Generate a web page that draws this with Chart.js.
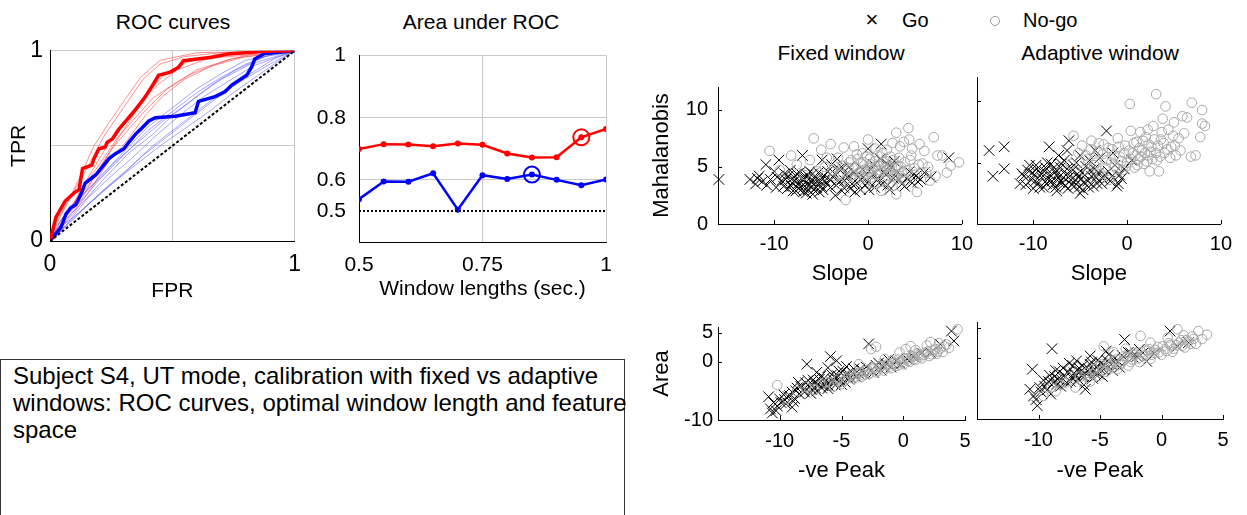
<!DOCTYPE html>
<html>
<head>
<meta charset="utf-8">
<script src="https://cdn.jsdelivr.net/npm/chart.js@4.4.0/dist/chart.umd.min.js"></script>
<style>
  body { margin: 0; background: #fff; font-family: "Liberation Sans", Arial, sans-serif; }
  #page { position: relative; width: 1247px; height: 515px; overflow: hidden; }
  canvas { position: absolute; }
  .t { position: absolute; transform: translate(-50%, -50%); white-space: nowrap; color: #000; }
  .l { position: absolute; transform: translate(0, -50%); white-space: nowrap; color: #000; }
  #note {
    position: absolute; left: 0; top: 359px; width: 625px; height: 180px;
    border: 1px solid #333; box-sizing: border-box;
    font-size: 24px; line-height: 27px; padding: 2px 12px; white-space: pre;
  }
</style>
</head>
<body>
<div id="page">
  <div class="t" style="left:173px;top:22px;font-size:21px">ROC curves</div>
  <div class="t" style="left:481px;top:22px;font-size:21px">Area under ROC</div>
  <div class="t" style="left:872px;top:20px;font-size:22px">×</div>
  <div class="l" style="left:902px;top:20px;font-size:20px">Go</div>
  <div class="t" style="left:995px;top:21px;width:8px;height:8px;border:1px solid #999;border-radius:50%"></div>
  <div class="l" style="left:1023px;top:20px;font-size:20px">No-go</div>
  <div class="t" style="left:841px;top:53px;font-size:21px">Fixed window</div>
  <div class="t" style="left:1100px;top:53px;font-size:21px">Adaptive window</div>
  <div id="note">Subject S4, UT mode, calibration with fixed vs adaptive
windows: ROC curves, optimal window length and feature
space</div>
</div>
<script>
// ROC curves (FPR, TPR)
const rocRed = [[0,0],[0.011,0.055],[0.024,0.124],[0.062,0.21],[0.099,0.253],[0.119,0.27],[0.133,0.381],
  [0.171,0.399],[0.18,0.433],[0.2,0.485],[0.225,0.493],[0.234,0.519],[0.255,0.536],[0.282,0.588],
  [0.316,0.639],[0.35,0.691],[0.39,0.759],[0.424,0.828],[0.444,0.871],[0.492,0.888],[0.526,0.914],
  [0.546,0.948],[0.661,0.966],[0.729,0.983],[0.878,0.997],[1,1]];
const rocBlue = [[0,0],[0.018,0.029],[0.045,0.072],[0.065,0.141],[0.085,0.175],[0.106,0.192],[0.126,0.244],
  [0.144,0.304],[0.187,0.347],[0.214,0.39],[0.241,0.433],[0.268,0.459],[0.302,0.485],[0.322,0.519],
  [0.35,0.562],[0.377,0.596],[0.404,0.631],[0.431,0.648],[0.512,0.656],[0.593,0.674],[0.607,0.734],
  [0.675,0.759],[0.715,0.785],[0.743,0.82],[0.804,0.871],[0.824,0.914],[0.837,0.957],[0.878,0.986],[1,1]];
const rocRedThin = [
  [[0,0],[0.03,0.1],[0.08,0.22],[0.15,0.38],[0.22,0.55],[0.3,0.7],[0.38,0.85],[0.45,0.93],[0.55,0.97],[0.7,0.99],[1,1]],
  [[0,0],[0.05,0.1],[0.12,0.25],[0.2,0.4],[0.28,0.55],[0.35,0.65],[0.42,0.75],[0.5,0.82],[0.6,0.9],[0.75,0.96],[1,1]],
  [[0,0],[0.04,0.08],[0.1,0.2],[0.18,0.33],[0.25,0.48],[0.33,0.6],[0.4,0.7],[0.48,0.8],[0.58,0.88],[0.72,0.95],[0.85,0.99],[1,1]],
  [[0,0],[0.02,0.07],[0.09,0.18],[0.14,0.3],[0.21,0.45],[0.27,0.58],[0.36,0.72],[0.44,0.82],[0.52,0.9],[0.65,0.96],[1,1]],
  [[0,0],[0.06,0.12],[0.13,0.22],[0.19,0.36],[0.26,0.5],[0.32,0.62],[0.4,0.78],[0.47,0.88],[0.56,0.94],[0.68,0.98],[1,1]],
  [[0,0],[0.03,0.05],[0.1,0.15],[0.17,0.28],[0.24,0.42],[0.31,0.52],[0.39,0.66],[0.46,0.76],[0.55,0.85],[0.66,0.92],[0.8,0.97],[1,1]],
  [[0,0],[0.02,0.09],[0.07,0.2],[0.12,0.33],[0.18,0.5],[0.24,0.62],[0.31,0.75],[0.37,0.86],[0.45,0.95],[0.6,0.99],[1,1]]
];
const rocBlueThin = [
  [[0,0],[0.05,0.08],[0.12,0.2],[0.2,0.32],[0.3,0.45],[0.4,0.58],[0.5,0.68],[0.6,0.78],[0.7,0.86],[0.8,0.93],[0.9,0.98],[1,1]],
  [[0,0],[0.06,0.07],[0.14,0.17],[0.22,0.27],[0.32,0.38],[0.42,0.5],[0.52,0.6],[0.62,0.7],[0.72,0.8],[0.82,0.88],[0.92,0.96],[1,1]],
  [[0,0],[0.04,0.1],[0.1,0.2],[0.18,0.3],[0.27,0.42],[0.36,0.52],[0.46,0.63],[0.56,0.72],[0.66,0.82],[0.76,0.9],[0.88,0.97],[1,1]],
  [[0,0],[0.08,0.1],[0.16,0.2],[0.25,0.3],[0.35,0.4],[0.45,0.5],[0.55,0.59],[0.65,0.68],[0.75,0.78],[0.85,0.87],[0.95,0.96],[1,1]],
  [[0,0],[0.05,0.12],[0.13,0.24],[0.22,0.36],[0.31,0.48],[0.4,0.6],[0.5,0.7],[0.6,0.8],[0.7,0.88],[0.8,0.95],[1,1]],
  [[0,0],[0.07,0.09],[0.15,0.22],[0.24,0.33],[0.33,0.43],[0.43,0.55],[0.53,0.66],[0.63,0.76],[0.73,0.84],[0.83,0.92],[1,1]],
  [[0,0],[0.03,0.06],[0.11,0.14],[0.2,0.24],[0.29,0.34],[0.38,0.45],[0.48,0.55],[0.58,0.65],[0.68,0.75],[0.78,0.84],[0.9,0.93],[1,1]],
  [[0,0],[0.06,0.11],[0.14,0.21],[0.23,0.34],[0.32,0.46],[0.42,0.56],[0.5,0.66],[0.6,0.76],[0.7,0.85],[0.82,0.93],[1,1]]
];
const chanceLine = [[0,0],[1,1]];
const rocTicks = [0, 0.5, 1];

// Area under ROC vs window length
const winLen = [0.5, 0.55, 0.6, 0.65, 0.7, 0.75, 0.8, 0.85, 0.9, 0.95, 1.0];
const aucRed = [0.699, 0.715, 0.714, 0.708, 0.717, 0.713, 0.685, 0.672, 0.673, 0.737, 0.764];
const aucBlue = [0.538, 0.595, 0.594, 0.621, 0.504, 0.615, 0.603, 0.617, 0.600, 0.583, 0.601];
const bestRed = 9, bestBlue = 7;
const aucChance = 0.5;
const aucXTicks = [0.5, 0.75, 1];
const aucYTicks = [0.5, 0.6, 0.8, 1];

// feature space: Slope vs Mahalanobis
const goFixedTop = [[-15.9,3.9],[-12.6,3.9],[-11.6,4.2],[-11.3,3.7],[-10.9,5.2],[-10.8,3.4],[-10.4,3.9],[-9.8,3.2],
  [-9.5,5.6],[-9.2,3.8],[-8.9,4.4],[-8.6,3.1],[-8.3,4.7],[-8.1,3.6],[-7.9,4.1],[-7.7,2.9],[-7.5,3.5],[-7.3,4.5],
  [-7.0,6.0],[-6.9,3.2],[-6.8,3.9],[-6.6,2.7],[-6.5,4.3],[-6.3,3.4],[-6.1,3.8],[-5.9,4.4],[-5.8,3.0],[-5.6,3.6],
  [-5.4,4.0],[-5.2,2.8],[-5.0,3.3],[-4.9,5.6],[-4.7,4.2],[-4.4,3.5],[-4.1,3.9],[-3.8,4.6],[-3.5,2.5],[-3.3,5.7],
  [-3.0,3.7],[-2.6,3.2],[-2.3,4.4],[-2.0,5.0],[-1.7,3.5],[-1.4,2.8],[-1.0,4.1],[-0.6,4.8],[-0.3,3.4],[0.0,6.6],
  [0.1,3.0],[0.5,4.3],[0.9,3.8],[1.4,7.0],[1.7,4.6],[2.1,3.4],[2.5,5.0],[2.8,5.5],[3.3,3.9],[3.9,3.3],[4.4,4.6],
  [4.9,4.4],[5.3,3.7],[5.6,3.9],[6.7,4.1],[8.6,5.8],
  [-9.0,3.3],[-8.8,3.9],[-8.5,4.2],[-8.2,3.3],[-8.0,2.9],[-7.8,3.8],[-7.6,4.4],[-7.4,3.1],[-7.2,3.7],[-7.1,4.0],
  [-6.9,2.8],[-6.7,3.6],[-6.6,4.1],[-6.4,3.0],[-6.2,4.6],[-6.0,3.3],[-5.9,2.6],[-5.7,4.0],[-5.5,3.2],[-5.3,4.5],
  [-5.1,3.7],[-4.8,3.0],[-4.6,3.8],[-4.3,4.6],[-4.0,3.2],[-3.7,4.1],[-3.4,3.4],[-3.1,4.8],[-2.8,2.9],[-2.5,3.8],
  [-2.2,4.1],[-1.9,3.1],[-1.5,4.5],[-1.2,3.6],[-0.8,3.0],[-0.5,4.1],[-0.1,3.6],[0.3,4.8],[0.7,3.2],[1.1,4.0],
  [1.5,3.5],[1.9,4.3],[2.3,3.0],[2.7,4.0],[3.1,4.6],[3.6,3.5],[4.1,4.0],[4.7,3.6],[5.1,4.2],[6.0,4.5],[-11.8,4.0],
  [-10.0,4.6],[-9.7,4.1],[-12.0,3.5],[-3.9,5.2],[-2.7,4.9],[0.6,5.2],[1.3,5.7],[2.0,5.3]];
const nogoFixedTop = [[-10.5,6.4],[-9.4,4.7],[-8.2,6.0],[-7.6,5.2],[-6.8,4.3],[-5.8,7.5],[-5.0,6.5],[-4.6,5.0],
  [-4.0,7.0],[-3.6,4.2],[-3.2,5.8],[-2.9,3.5],[-2.6,6.7],[-2.4,2.1],[-2.1,4.9],[-1.8,5.6],[-1.5,6.8],[-1.3,3.9],
  [-1.0,4.5],[-0.8,5.3],[-0.6,6.2],[-0.4,3.2],[-0.2,4.8],[0.0,7.4],[0.2,5.7],[0.4,4.1],[0.6,3.6],[0.8,5.0],
  [1.0,6.0],[1.2,4.4],[1.4,2.9],[1.6,5.4],[1.8,3.8],[2.0,6.5],[2.2,4.7],[2.4,5.9],[2.6,3.3],[2.8,4.2],[3.0,2.6],
  [3.2,5.1],[3.4,6.8],[3.6,4.5],[3.8,7.2],[4.0,3.8],[4.3,8.4],[4.5,5.6],[4.7,6.6],[4.9,4.9],[5.2,2.8],[5.5,7.0],
  [5.8,5.3],[6.2,4.5],[6.6,3.8],[7.0,7.6],[7.4,6.0],[7.9,6.0],[8.4,4.5],[8.8,5.1],[9.7,5.4],
  [-3.8,4.7],[-3.4,5.3],[-3.0,4.4],[-2.7,5.1],[-2.3,4.0],[-2.0,5.4],[-1.7,4.3],[-1.4,5.0],[-1.1,5.7],[-0.9,4.1],
  [-0.7,4.7],[-0.5,5.4],[-0.3,4.4],[-0.1,5.9],[0.1,4.6],[0.3,5.2],[0.5,4.8],[0.7,5.5],[0.9,4.3],[1.1,5.1],
  [1.3,4.7],[1.5,6.2],[1.7,4.9],[1.9,5.5],[2.1,4.2],[2.3,5.0],[2.5,4.5],[2.7,5.6],[2.9,4.9],[3.1,4.3],[3.3,5.8],
  [3.5,5.0],[3.7,4.0],[3.9,5.4],[4.2,4.7],[4.6,6.0],[5.0,4.3],[5.4,5.2],[6.0,6.4],[6.4,5.0],[7.2,4.2],[-5.4,4.6],
  [-4.4,5.8],[-6.2,5.6],[-1.2,6.1],[0.8,6.6],[2.6,7.1],[4.4,7.4],[3.0,8.0]];
const goAdaptTop = [[-14.7,6.0],[-14.3,3.9],[-13.1,6.3],[-13.1,4.5],[-11.4,3.3],[-11.0,3.9],[-10.6,4.4],[-10.2,3.6],
  [-10.0,2.9],[-9.7,4.8],[-9.5,3.3],[-9.2,4.1],[-8.9,3.0],[-8.7,4.6],[-8.4,3.7],[-8.3,6.3],[-8.1,4.9],[-7.9,3.2],
  [-7.7,4.2],[-7.5,2.7],[-7.3,3.8],[-7.1,4.6],[-6.9,3.4],[-6.7,5.2],[-6.5,4.0],[-6.3,2.9],[-6.2,6.8],[-6.0,3.6],
  [-5.8,4.4],[-5.6,3.1],[-5.4,5.0],[-5.2,3.8],[-5.0,2.5],[-4.8,4.2],[-4.6,3.4],[-4.4,4.7],[-4.1,3.0],[-3.8,3.9],
  [-3.5,4.5],[-3.2,3.3],[-2.9,5.4],[-2.6,3.7],[-2.2,7.6],[-2.0,4.3],[-1.6,3.9],[-1.3,4.8],[-0.95,3.3],[-0.6,3.7],[0.5,5.2],
  [-11.2,4.1],[-10.8,3.2],[-10.4,4.8],[-10.1,4.2],[-9.8,3.5],[-9.6,4.5],[-9.3,3.0],[-9.1,3.8],[-8.8,4.3],[-8.6,3.3],
  [-8.5,5.0],[-8.2,4.0],[-8.0,3.5],[-7.8,4.6],[-7.6,3.0],[-7.4,4.1],[-7.2,3.4],[-7.0,4.9],[-6.8,3.8],[-6.6,3.1],
  [-6.4,4.5],[-6.1,3.9],[-5.9,3.2],[-5.7,4.8],[-5.5,3.6],[-5.3,4.1],[-5.1,3.0],[-4.9,3.7],[-4.7,2.8],[-4.5,4.0],
  [-4.2,3.5],[-3.9,4.4],[-3.6,3.1],[-3.3,3.8],[-3.0,4.2],[-2.7,3.3],[-2.4,4.0],[-1.8,3.5],[-1.1,3.1],[-0.8,4.0],
  [-9.9,4.0],[-7.3,5.6],[-6.4,6.0],[-5.0,5.6],[-4.0,5.2],[-3.4,6.0],[-1.5,5.8],[-0.3,4.5]];
const nogoAdaptTop = [[-6.0,4.9],[-5.7,7.2],[-5.2,5.8],[-4.8,6.4],[-4.6,4.4],[-4.2,5.3],[-3.8,6.8],[-3.5,4.8],
  [-3.1,5.9],[-2.8,4.1],[-2.5,6.5],[-2.2,5.2],[-1.9,3.6],[-1.6,6.1],[-1.3,4.7],[-1.0,7.0],[-0.8,5.5],[-0.5,4.4],
  [-0.2,6.4],[0.0,5.0],[0.3,9.8],[0.4,7.6],[0.6,5.8],[0.8,4.6],[1.0,6.7],[1.2,5.3],[1.4,7.5],[1.6,6.0],[1.8,4.9],
  [2.0,7.1],[2.2,5.6],[2.4,4.3],[2.6,6.3],[2.8,8.0],[3.1,10.6],[3.2,5.2],[3.4,4.3],[3.6,6.9],[3.8,8.6],[4.0,5.8],
  [4.1,9.6],[4.4,7.7],[4.7,6.3],[5.0,8.3],[5.2,5.6],[5.5,7.0],[5.9,8.8],[6.4,8.7],[6.8,5.5],[6.9,9.9],[7.3,5.6],
  [7.8,7.1],[8.0,8.2],[8.0,9.3],[8.3,8.0],
  [-4.4,5.6],[-3.9,6.1],[-3.3,5.0],[-3.0,6.6],[-2.6,5.7],[-2.3,4.6],[-2.0,6.2],[-1.7,5.0],[-1.4,5.6],[-1.1,4.5],
  [-0.9,6.3],[-0.6,5.1],[-0.3,5.8],[-0.1,4.7],[0.2,6.0],[0.4,5.3],[0.7,6.6],[0.9,5.6],[1.1,4.8],[1.3,6.2],
  [1.5,5.5],[1.7,6.8],[1.9,5.8],[2.1,5.1],[2.3,6.5],[2.5,5.9],[2.7,5.3],[2.9,6.9],[3.1,5.8],[3.3,6.4],[3.5,5.5],
  [3.9,6.6],[4.3,6.1],[4.6,5.4],[5.1,6.4],[5.7,6.0],[6.1,7.4],[4.9,7.2],[3.7,7.5],[2.2,7.7]];

// feature space: -ve Peak vs Area
const goFixedBot = [[-10.9,-6.0],[-10.75,-8.1],[-10.6,-8.8],[-10.5,-7.0],[-10.2,-7.6],[-10.0,-6.4],[-9.7,-5.6],
  [-9.5,-7.2],[-9.3,-6.0],[-9.0,-5.2],[-8.8,-6.3],[-8.6,-4.5],[-8.4,-5.5],[-8.1,-4.8],[-7.9,-3.6],[-7.8,-0.4],
  [-7.6,-4.2],[-7.5,-5.4],[-7.3,-3.1],[-7.1,-4.5],[-6.9,-3.8],[-6.7,-2.5],[-6.5,-4.1],[-6.3,-3.3],[-6.1,-4.6],
  [-5.9,0.9],[-5.8,-2.2],[-5.6,-3.6],[-5.4,-2.8],[-5.2,-1.6],[-5.0,-3.9],[-4.8,-2.4],[-4.6,-0.8],[-4.4,-3.0],
  [-4.1,-1.9],[-3.8,-2.6],[-3.5,-1.2],[-3.2,-2.1],[-2.8,3.1],[-2.6,-1.5],[-2.2,-0.6],[-1.8,-1.4],[-1.4,-0.3],
  [-1.0,-0.9],[-0.6,0.2],[-0.2,-0.4],[0.3,0.5],[0.8,0.9],[1.5,1.5],[2.2,1.6],[3.0,3.0],[3.9,5.3],[4.1,3.6],
  [-9.9,-7.0],[-9.6,-6.5],[-9.2,-5.8],[-8.9,-6.8],[-8.7,-5.0],[-8.3,-4.2],[-8.0,-5.2],[-7.7,-3.2],[-7.4,-4.8],
  [-7.2,-3.6],[-7.0,-5.0],[-6.8,-3.0],[-6.6,-4.5],[-6.4,-2.8],[-6.2,-3.8],[-6.0,-4.2],[-5.7,-3.0],[-5.5,-4.0],
  [-5.3,-2.4],[-5.1,-3.2],[-4.9,-1.6],[-4.7,-3.5],[-4.5,-2.0],[-4.3,-2.7],[-4.0,-1.2],[-3.6,-2.0],[-3.3,-1.5],
  [-3.0,-0.9],[-2.4,-1.8],[-2.0,-0.2],[-1.6,-0.8],[-1.2,0.4],[-0.8,-0.4],[-10.3,-8.4],[-9.0,-7.8],[-8.5,-3.5],
  [-7.0,-1.8],[-6.1,-1.0],[-5.4,0.2]];
const nogoFixedBot = [[-10.2,-4.0],[-9.4,-6.3],[-8.6,-5.0],[-7.9,-4.3],[-7.2,-4.8],[-6.6,-3.9],[-6.0,-3.5],
  [-5.6,-4.2],[-5.2,-2.8],[-4.8,-3.3],[-4.4,-2.5],[-4.0,-2.9],[-3.7,-2.0],[-3.4,-2.6],[-3.1,-1.6],[-2.8,-2.1],
  [-2.6,2.2],[-2.5,-1.3],[-2.2,-1.8],[-1.9,-0.9],[-1.6,-1.5],[-1.3,-0.6],[-1.0,-1.1],[-0.8,-0.2],[-0.5,-0.7],
  [-0.2,0.1],[0.0,-0.4],[0.3,0.5],[0.5,0.0],[0.8,0.9],[1.0,0.3],[1.3,1.2],[1.5,0.6],[1.8,1.6],[2.1,1.0],[2.4,2.0],
  [2.7,1.4],[3.0,2.3],[3.2,1.7],[3.5,3.0],[0.6,2.7],[-0.3,1.6],[1.9,2.8],[-1.5,0.5],[3.7,2.4],[4.4,5.6],[2.9,3.2],[-3.6,-0.4],
  [-4.6,-2.9],[-4.2,-2.2],[-3.9,-2.5],[-3.5,-1.8],[-3.2,-2.3],[-2.9,-1.4],[-2.7,-1.9],[-2.4,-1.0],[-2.1,-1.5],
  [-1.8,-0.7],[-1.5,-1.1],[-1.2,-0.3],[-1.1,-0.8],[-0.9,0.2],[-0.6,-0.3],[-0.4,0.4],[-0.1,-0.1],[0.1,0.6],[0.4,0.2],
  [0.7,1.0],[0.9,0.5],[1.2,1.4],[1.4,0.9],[1.7,1.2],[2.0,1.8],[2.3,1.3],[2.6,2.2],[2.8,1.8],[3.3,2.7],[-6.3,-3.5],
  [-5.4,-3.2],[-5.0,-3.8],[-7.6,-4.6],[1.0,2.0],[2.2,3.4],[-2.2,2.6],[0.2,2.2]];
const goAdaptBot = [[-10.7,-5.1],[-10.5,-1.8],[-10.4,-6.2],[-10.1,-7.8],[-9.8,-5.5],[-9.5,-4.6],[-9.2,-3.8],
  [-9.0,-5.9],[-8.9,1.6],[-8.7,-3.0],[-8.5,-4.3],[-8.3,-2.2],[-8.1,-3.6],[-7.9,-2.8],[-7.7,-4.0],[-7.5,-0.8],
  [-7.3,-3.2],[-7.1,-2.4],[-6.9,-3.8],[-6.7,-1.6],[-6.5,-2.9],[-6.3,-4.4],[-6.2,-5.1],[-6.0,-2.1],[-5.8,-1.0],
  [-5.6,-3.3],[-5.4,-2.5],[-5.2,-0.3],[-5.0,-1.7],[-4.8,-3.0],[-4.6,-1.2],[-4.3,0.6],[-4.0,-2.0],[-3.7,-0.9],
  [-3.4,-1.5],[-3.0,3.1],[-2.7,1.0],[-2.3,0.2],[-1.8,1.5],[-1.2,-0.5],[-0.6,0.8],[0.7,4.5],[1.3,2.0],[2.2,2.6],
  [-10.2,-6.8],[-9.9,-4.8],[-9.6,-3.6],[-9.3,-5.2],[-9.1,-2.8],[-8.8,-4.0],[-8.6,-2.0],[-8.4,-3.4],[-8.2,-4.6],
  [-8.0,-1.6],[-7.8,-3.0],[-7.6,-2.2],[-7.4,-3.8],[-7.2,-1.2],[-7.0,-2.8],[-6.8,-3.4],[-6.6,-2.2],[-6.4,-1.2],
  [-6.3,-3.0],[-6.1,-2.6],[-5.9,-1.8],[-5.7,-0.6],[-5.5,-2.0],[-5.3,-1.4],[-5.1,-2.6],[-4.9,-0.8],[-4.7,-1.8],
  [-4.4,-0.4],[-4.1,-1.0],[-3.8,0.0],[-3.5,-0.5],[-3.2,0.5],[-2.5,0.9],[-2.0,0.3],[-1.5,0.9],[-6.9,-0.4],[-5.8,0.4],[-4.5,1.2]];
const nogoAdaptBot = [[-9.6,-6.2],[-9.0,-4.8],[-8.2,-4.4],[-7.4,-3.0],[-7.0,-4.8],[-6.5,-3.6],[-6.1,-2.4],
  [-5.8,-3.8],[-5.5,-1.8],[-5.1,-2.9],[-4.9,-1.0],[-4.7,2.0],[-4.5,-2.2],[-4.2,-1.3],[-3.9,-0.4],[-3.6,-1.8],
  [-3.3,-0.8],[-3.0,0.4],[-2.7,-1.2],[-2.4,-0.2],[-2.1,0.8],[-1.8,-0.6],[-1.7,3.7],[-1.5,0.4],[-1.2,1.3],
  [-0.9,-0.1],[-0.6,0.9],[-0.3,1.9],[0.0,0.6],[0.3,1.5],[0.6,2.5],[0.9,1.1],[1.2,2.2],[1.3,4.8],[1.6,3.0],
  [1.9,1.8],[2.2,2.8],[2.5,3.6],[2.8,2.4],[3.0,4.5],[3.3,3.2],[3.7,3.9],
  [-6.6,-3.0],[-6.0,-3.2],[-5.6,-2.6],[-5.2,-1.4],[-4.8,-2.0],[-4.3,-0.9],[-4.0,-1.5],[-3.7,-0.2],[-3.4,-1.1],
  [-3.1,-0.4],[-2.8,0.2],[-2.5,-0.6],[-2.2,0.5],[-1.9,0.0],[-1.6,1.0],[-1.3,0.5],[-1.0,1.5],[-0.8,0.6],[-0.5,1.4],
  [-0.2,1.0],[0.1,2.0],[0.4,1.2],[0.7,2.2],[1.0,1.6],[1.4,2.6],[1.7,2.1],[2.0,3.0],[2.4,2.4],[2.6,3.2],[-7.8,-4.0],
  [-8.6,-5.4],[-3.9,1.0],[-2.9,1.6],[-0.9,2.6],[0.5,3.4],[1.8,3.8]];

const slopeTicks = [-10, 0, 10], mahalTicks = [0, 5, 10];
const peakTicks = [-10, -5, 0, 5], areaTicks = [-10, 0, 5];

Chart.defaults.font.family = '"Liberation Sans", Arial, sans-serif';
Chart.defaults.color = '#000';
Chart.defaults.animation = false;
Chart.defaults.responsive = false;
Chart.defaults.devicePixelRatio = 1;
Chart.defaults.plugins.legend.display = false;
Chart.defaults.plugins.tooltip.enabled = false;

const page = document.getElementById('page');
const pts = arr => arr.map(([x, y]) => ({ x, y }));
const fixTicks = list => s => { s.ticks = list.map(v => ({ value: v })); };

// tick marks drawn inside the axes, matlab style
const inTicks = {
  id: 'inTicks',
  afterDraw(chart) {
    const { ctx, chartArea: a, scales: { x, y } } = chart;
    ctx.save();
    ctx.strokeStyle = '#000';
    ctx.lineWidth = 1;
    ctx.beginPath();
    x.ticks.forEach(t => {
      const px = Math.round(x.getPixelForValue(t.value)) + 0.5;
      ctx.moveTo(px, a.bottom); ctx.lineTo(px, a.bottom - 4);
    });
    y.ticks.forEach(t => {
      const py = Math.round(y.getPixelForValue(t.value)) + 0.5;
      ctx.moveTo(a.left, py); ctx.lineTo(a.left + 4, py);
    });
    ctx.stroke();
    ctx.restore();
  }
};

function panel(area, yW, xH, padT, padR, config) {
  const c = document.createElement('canvas');
  const w = yW + (area.r - area.l) + padR;
  const h = padT + (area.b - area.t) + xH;
  c.width = w; c.height = h;
  c.style.width = w + 'px'; c.style.height = h + 'px';
  c.style.left = (area.l - yW) + 'px';
  c.style.top = (area.t - padT) + 'px';
  page.appendChild(c);
  config.options.layout = { padding: { top: padT, right: padR, left: 0, bottom: 0 } };
  config.options.scales.y.afterFit = s => { s.width = yW; };
  config.options.scales.x.afterFit = s => { s.height = xH; };
  return new Chart(c, config);
}

const dotGrid = { color: '#c8c8c8', borderDash: [1, 2], drawTicks: false, lineWidth: 1 };
const blackBorder = { display: true, color: '#000', width: 1 };

// ROC curves
const rocSets = [
  { data: pts(chanceLine), borderColor: '#000', borderWidth: 2, borderDash: [3, 2] },
  { data: pts(rocRed), borderColor: '#ff0000', borderWidth: 3.5 },
  { data: pts(rocBlue), borderColor: '#0000ff', borderWidth: 3.5 }
];
rocRedThin.forEach(c => rocSets.push({ data: pts(c), borderColor: 'rgba(255,70,70,0.6)', borderWidth: 1 }));
rocBlueThin.forEach(c => rocSets.push({ data: pts(c), borderColor: 'rgba(90,90,255,0.55)', borderWidth: 1 }));
rocSets.forEach(d => { d.showLine = true; d.pointRadius = 0; });

panel({ l: 50, r: 296, t: 45, b: 241 }, 50, 66, 15, 15, {
  type: 'scatter',
  data: { datasets: rocSets },
  options: {
    scales: {
      x: {
        min: 0, max: 1, afterBuildTicks: fixTicks(rocTicks),
        grid: dotGrid, border: blackBorder,
        ticks: { font: { size: 23 }, padding: 10, maxRotation: 0, autoSkip: false,
          callback: v => (v === 0.5 ? '' : String(v)) },
        title: { display: true, text: 'FPR', font: { size: 21 }, padding: { bottom: 3 } }
      },
      y: {
        min: 0, max: 1, afterBuildTicks: fixTicks(rocTicks),
        grid: dotGrid, border: blackBorder,
        ticks: { font: { size: 23 }, padding: 7, autoSkip: false,
          callback: v => (v === 0.5 ? '' : String(v)) },
        title: { display: true, text: 'TPR', font: { size: 21 }, padding: { top: 7 } }
      }
    }
  }
});

// Area under ROC
const aucSets = [
  { data: [{ x: winLen[bestRed], y: aucRed[bestRed] }], borderColor: '#ff0000', borderWidth: 2,
    pointRadius: 8, backgroundColor: 'rgba(0,0,0,0)' },
  { data: [{ x: winLen[bestBlue], y: aucBlue[bestBlue] }], borderColor: '#0000ff', borderWidth: 2,
    pointRadius: 8, backgroundColor: 'rgba(0,0,0,0)' },
  { data: [{ x: winLen[0], y: aucChance }, { x: winLen[winLen.length - 1], y: aucChance }],
    showLine: true, pointRadius: 0, borderColor: '#000', borderWidth: 2, borderDash: [2, 2] },
  { data: winLen.map((x, i) => ({ x, y: aucRed[i] })), showLine: true, borderColor: '#ff0000',
    borderWidth: 2.5, pointRadius: 3, backgroundColor: '#ff0000', pointBorderWidth: 0 },
  { data: winLen.map((x, i) => ({ x, y: aucBlue[i] })), showLine: true, borderColor: '#0000ff',
    borderWidth: 2.5, pointRadius: 3, backgroundColor: '#0000ff', pointBorderWidth: 0 }
];

panel({ l: 359, r: 606, t: 45, b: 242 }, 60, 66, 15, 18, {
  type: 'scatter',
  data: { datasets: aucSets },
  options: {
    scales: {
      x: {
        min: 0.5, max: 1, afterBuildTicks: fixTicks(aucXTicks),
        grid: dotGrid, border: blackBorder,
        ticks: { font: { size: 21 }, padding: 11, maxRotation: 0, autoSkip: false, callback: v => String(v) },
        title: { display: true, text: 'Window lengths (sec.)', font: { size: 21 }, padding: { bottom: 6 } }
      },
      y: {
        min: 0.4, max: 1, afterBuildTicks: fixTicks(aucYTicks),
        grid: Object.assign({}, dotGrid, { color: c => (c.tick && c.tick.value === 0.5 ? 'rgba(0,0,0,0)' : '#c8c8c8') }),
        border: blackBorder,
        ticks: { font: { size: 21 }, padding: 13, autoSkip: false, callback: v => String(v) }
      }
    }
  }
});

// feature space scatters
function scatterCfg(go, nogo, xr, yr, xt, yt, showY, xTitle, yTitle, tickPadY, tickPadX) {
  return {
    type: 'scatter',
    data: {
      datasets: [
        { data: pts(nogo), pointStyle: 'circle', pointRadius: 4.8, borderColor: '#a8a8a8',
          borderWidth: 1, backgroundColor: 'rgba(0,0,0,0)', clip: false },
        { data: pts(go), pointStyle: 'crossRot', pointRadius: 7.5, borderColor: '#000',
          borderWidth: 1, clip: false }
      ]
    },
    options: {
      scales: {
        x: {
          min: xr[0], max: xr[1], afterBuildTicks: fixTicks(xt),
          grid: { display: true, drawOnChartArea: false, drawTicks: false }, border: blackBorder,
          ticks: { font: { size: 20 }, padding: tickPadX, maxRotation: 0, autoSkip: false, callback: v => String(v) },
          title: { display: true, text: xTitle, font: { size: 22 }, padding: { bottom: 1 } }
        },
        y: {
          min: yr[0], max: yr[1], afterBuildTicks: fixTicks(yt),
          grid: { display: true, drawOnChartArea: false, drawTicks: false }, border: blackBorder,
          ticks: { display: showY, font: { size: 20 }, padding: tickPadY, autoSkip: false, callback: v => String(v) },
          title: { display: !!yTitle, text: yTitle, font: { size: 22 }, padding: { top: 6 } }
        }
      }
    },
    plugins: [inTicks]
  };
}

panel({ l: 718, r: 965, t: 77, b: 224 }, 75, 64, 12, 16,
  scatterCfg(goFixedTop, nogoFixedTop, [-16, 10], [0, 12], slopeTicks, mahalTicks, true, 'Slope', 'Mahalanobis', 10, 8));
panel({ l: 977, r: 1224, t: 77, b: 224 }, 10, 64, 12, 16,
  scatterCfg(goAdaptTop, nogoAdaptTop, [-16, 10], [0, 12], slopeTicks, mahalTicks, false, 'Slope', '', 10, 8));
panel({ l: 718, r: 965, t: 322, b: 420 }, 75, 65, 12, 16,
  scatterCfg(goFixedBot, nogoFixedBot, [-15, 5], [-10, 6], peakTicks, areaTicks, true, '-ve Peak', 'Area', 5, 9));
panel({ l: 977, r: 1223, t: 322, b: 419 }, 10, 66, 12, 16,
  scatterCfg(goAdaptBot, nogoAdaptBot, [-15, 5], [-10, 6], peakTicks, areaTicks, false, '-ve Peak', '', 5, 9));
</script>
</body>
</html>
